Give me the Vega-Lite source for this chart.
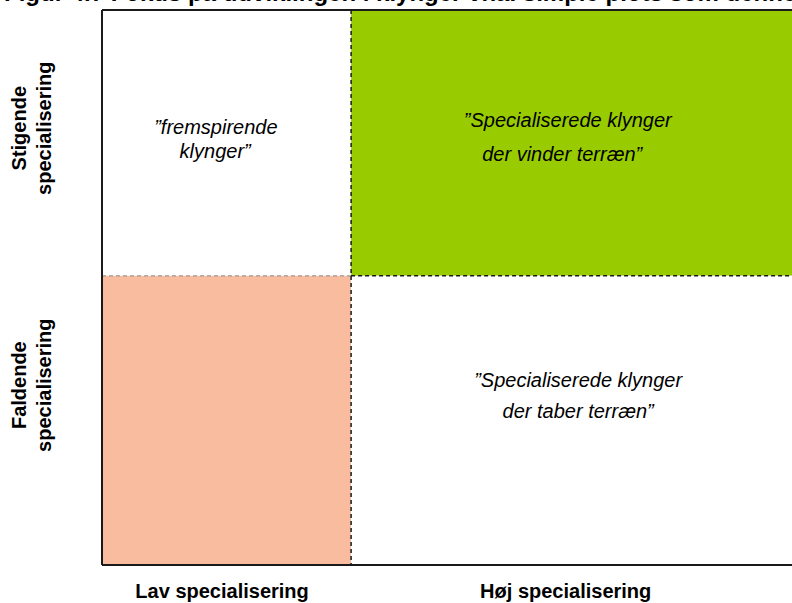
{
  "$schema": "https://vega.github.io/schema/vega-lite/v6.json",
  "width": 690,
  "height": 555,
  "autosize": {"type": "none"},
  "padding": {"left": 102, "top": 10, "right": 0, "bottom": 38},
  "background": "white",
  "config": {"view": {"stroke": null}},
  "title": {
    "text": "Figur 4.7 Fokus på udviklingen i klynger vha. simple plots som denne",
    "anchor": "start",
    "frame": "group",
    "orient": "top",
    "baseline": "alphabetic",
    "offset": 2,
    "dx": -98,
    "dy": 18,
    "font": "Liberation Sans",
    "fontSize": 24,
    "fontWeight": "bold",
    "color": "black"
  },
  "datasets": {
    "quadrants": [
      {"quadrant": "fremspirende", "x0": 0, "x1": 36.1, "y0": 0, "y1": 47.9},
      {"quadrant": "vinder", "x0": 36.1, "x1": 100, "y0": 0, "y1": 47.9},
      {"quadrant": "faldende", "x0": 0, "x1": 36.1, "y0": 47.9, "y1": 100},
      {"quadrant": "taber", "x0": 36.1, "x1": 100, "y0": 47.9, "y1": 100}
    ],
    "lines": [
      {"kind": "frame", "x0": 0, "x1": 0, "y0": 0, "y1": 100},
      {"kind": "frame", "x0": 0, "x1": 100, "y0": 0, "y1": 0},
      {"kind": "frame", "x0": 0, "x1": 100, "y0": 100, "y1": 100},
      {"kind": "grey", "x0": 0, "x1": 36.1, "y0": 47.9, "y1": 47.9},
      {"kind": "dark", "x0": 36.1, "x1": 100, "y0": 47.9, "y1": 47.9},
      {"kind": "dark", "x0": 36.1, "x1": 36.1, "y0": 0, "y1": 100}
    ],
    "labels": [
      {"kind": "quad", "text": "”fremspirende", "x": 16.5, "y": 21.3},
      {"kind": "quad", "text": "klynger”", "x": 16.4, "y": 25.6},
      {"kind": "quad", "text": "”Specialiserede klynger", "x": 67.5, "y": 20.0},
      {"kind": "quad", "text": "der vinder terræn”", "x": 66.7, "y": 26.1},
      {"kind": "quad", "text": "”Specialiserede klynger", "x": 69.0, "y": 66.8},
      {"kind": "quad", "text": "der taber terræn”", "x": 69.0, "y": 72.4},
      {"kind": "xaxis", "text": "Lav specialisering", "x": 17.4, "y": 104.9},
      {"kind": "xaxis", "text": "Høj specialisering", "x": 67.2, "y": 104.9},
      {"kind": "yaxis", "text": "Stigende", "x": -11.9, "y": 21.3},
      {"kind": "yaxis", "text": "specialisering", "x": -8.3, "y": 21.3},
      {"kind": "yaxis", "text": "Faldende", "x": -11.9, "y": 67.6},
      {"kind": "yaxis", "text": "specialisering", "x": -8.3, "y": 67.6}
    ]
  },
  "layer": [
    {
      "data": {"name": "quadrants"},
      "mark": {"type": "rect", "strokeWidth": 0},
      "encoding": {
        "x": {"field": "x0", "type": "quantitative", "scale": {"domain": [0, 100], "nice": false, "zero": false}, "axis": null},
        "x2": {"field": "x1"},
        "y": {"field": "y0", "type": "quantitative", "scale": {"domain": [0, 100], "nice": false, "zero": false, "reverse": true}, "axis": null},
        "y2": {"field": "y1"},
        "color": {
          "field": "quadrant",
          "type": "nominal",
          "scale": {"domain": ["fremspirende", "vinder", "faldende", "taber"], "range": ["#ffffff", "#99cc00", "#f9bc9e", "#ffffff"]},
          "legend": null
        }
      }
    },
    {
      "data": {"name": "lines"},
      "transform": [{"filter": "datum.kind === 'grey'"}],
      "mark": {"type": "rule", "color": "#999999", "strokeWidth": 1.2, "strokeDash": [4, 3]},
      "encoding": {
        "x": {"field": "x0", "type": "quantitative"},
        "x2": {"field": "x1"},
        "y": {"field": "y0", "type": "quantitative"},
        "y2": {"field": "y1"}
      }
    },
    {
      "data": {"name": "lines"},
      "transform": [{"filter": "datum.kind === 'dark'"}],
      "mark": {"type": "rule", "color": "#1a1a1a", "strokeWidth": 1.5, "strokeDash": [4, 3]},
      "encoding": {
        "x": {"field": "x0", "type": "quantitative"},
        "x2": {"field": "x1"},
        "y": {"field": "y0", "type": "quantitative"},
        "y2": {"field": "y1"}
      }
    },
    {
      "data": {"name": "lines"},
      "transform": [{"filter": "datum.kind === 'frame'"}],
      "mark": {"type": "rule", "color": "#1a1a1a", "strokeWidth": 2},
      "encoding": {
        "x": {"field": "x0", "type": "quantitative"},
        "x2": {"field": "x1"},
        "y": {"field": "y0", "type": "quantitative"},
        "y2": {"field": "y1"}
      }
    },
    {
      "data": {"name": "labels"},
      "transform": [{"filter": "datum.kind === 'quad'"}],
      "mark": {"type": "text", "font": "Liberation Sans", "fontSize": 20, "fontStyle": "italic", "align": "center", "baseline": "middle", "color": "black"},
      "encoding": {
        "x": {"field": "x", "type": "quantitative"},
        "y": {"field": "y", "type": "quantitative"},
        "text": {"field": "text"}
      }
    },
    {
      "data": {"name": "labels"},
      "transform": [{"filter": "datum.kind === 'xaxis'"}],
      "mark": {"type": "text", "font": "Liberation Sans", "fontSize": 20, "fontWeight": "bold", "align": "center", "baseline": "middle", "color": "black"},
      "encoding": {
        "x": {"field": "x", "type": "quantitative"},
        "y": {"field": "y", "type": "quantitative"},
        "text": {"field": "text"}
      }
    },
    {
      "data": {"name": "labels"},
      "transform": [{"filter": "datum.kind === 'yaxis'"}],
      "mark": {"type": "text", "font": "Liberation Sans", "fontSize": 20, "fontWeight": "bold", "align": "center", "baseline": "middle", "angle": 270, "color": "black"},
      "encoding": {
        "x": {"field": "x", "type": "quantitative"},
        "y": {"field": "y", "type": "quantitative"},
        "text": {"field": "text"}
      }
    }
  ]
}
